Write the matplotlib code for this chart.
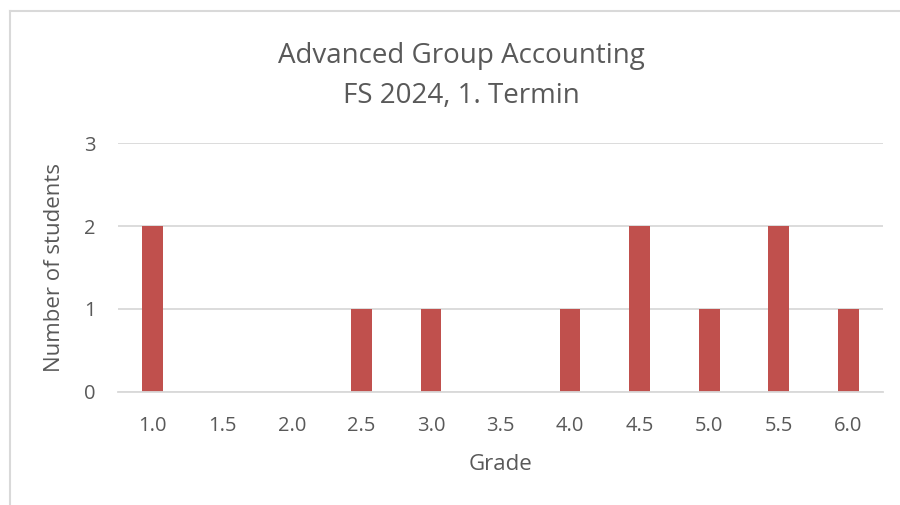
import matplotlib.pyplot as plt
from matplotlib.lines import Line2D

grades = ["1.0", "1.5", "2.0", "2.5", "3.0", "3.5", "4.0", "4.5", "5.0", "5.5", "6.0"]
students = [2, 0, 0, 1, 1, 0, 1, 2, 1, 2, 1]

text_color = "#595959"
bar_color = "#C0504D"
grid_color = "#D9D9D9"

plt.rcParams['font.family'] = ['Open Sans', 'DejaVu Sans']

fig = plt.figure(figsize=(9, 5.05), dpi=100)
ax = fig.add_axes([0.1311, 0.2238, 0.85, 0.4930])

x = range(len(grades))
ax.bar(x, students, width=0.3, color=bar_color, zorder=2)

ax.set_xlim(-0.5, len(grades) - 0.5)
ax.set_ylim(0, 3)
ax.set_yticks([0, 1, 2, 3])
ax.set_xticks(list(x))
ax.set_xticklabels(grades)
ax.grid(axis='y', color=grid_color, linewidth=1.3, zorder=0)
for side in ["top", "right", "left"]:
    ax.spines[side].set_visible(False)
ax.spines["bottom"].set_color(grid_color)
ax.spines["bottom"].set_linewidth(1.3)
ax.tick_params(axis='both', length=0, labelsize=14.5, colors=text_color)
ax.tick_params(axis='x', pad=17)
ax.tick_params(axis='y', pad=16)

ax.set_xlabel("Grade", fontsize=16, color=text_color, labelpad=13)
ax.set_ylabel("Number of students", fontsize=16, color=text_color, labelpad=14)

fig.text(0.513, 0.889, "Advanced Group Accounting", ha='center', va='center',
         fontsize=20, color=text_color)
fig.text(0.513, 0.810, "FS 2024, 1. Termin", ha='center', va='center',
         fontsize=20, color=text_color)

# chart-area border (top and left edges only visible)
fig.add_artist(Line2D([0.011, 1.0], [0.979, 0.979], transform=fig.transFigure,
                      color=grid_color, linewidth=1.5))
fig.add_artist(Line2D([0.011, 0.011], [0.0, 0.979], transform=fig.transFigure,
                      color=grid_color, linewidth=1.5))

fig.savefig("out.png", dpi=100)
